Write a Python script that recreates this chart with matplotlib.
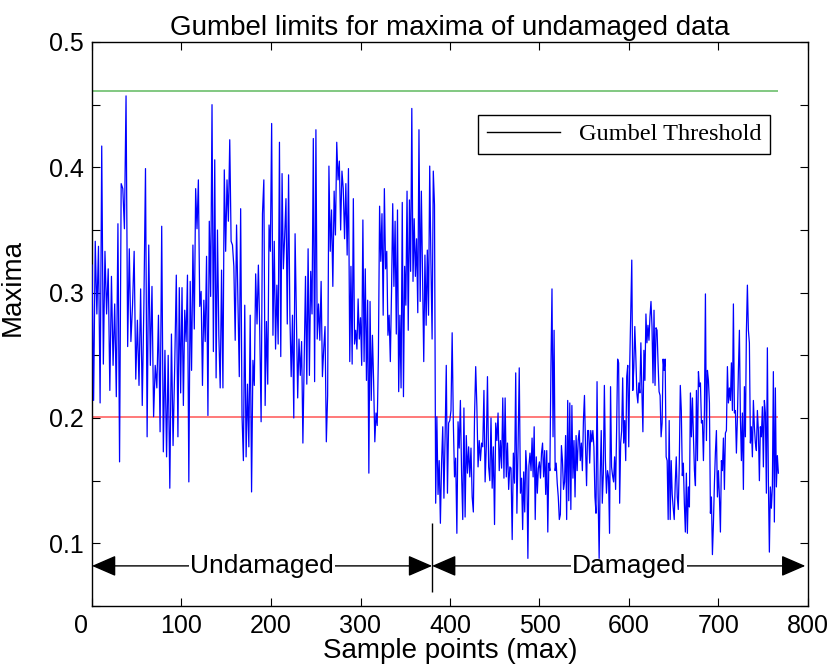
"""Gumbel limits for maxima of undamaged data - recreated with matplotlib."""

import numpy as np
import matplotlib
matplotlib.use('Agg')  # no display
import matplotlib.pyplot as plt
import matplotlib.transforms as mtransforms
from matplotlib.lines import Line2D

# Maxima, one list per block of 96 sample points
seg_len = 96

# 0-95 (undamaged)
seg1 = [.322, .214, .341, .283, .337, .212, .417, .243, .333, .283, .319, .222, .313, .242,
        .291, .217, .355, .165, .387, .383, .351, .457, .257, .335, .261, .290, .333, .231,
        .278, .226, .303, .210, .290, .399, .185, .338, .242, .305, .201, .242, .224, .282,
        .189, .353, .173, .254, .169, .250, .144, .267, .178, .240, .314]
# 96-191
seg2 = [.185, .304, .220, .304, .210, .286, .261, .314, .149, .309, .238, .338, .271, .383,
        .351, .390, .289, .301, .226, .294, .261, .329, .202, .357, .297, .450, .253, .406,
        .232, .350, .266, .224, .318, .224, .398, .333, .390, .357, .422, .341, .338, .321,
        .262, .354, .295, .233, .367, .202, .166, .290, .169, .227, .177, .282, .141, .246,
        .226, .315, .275, .322, .269, .197, .363]
# 192-287
seg3 = [.390, .210, .277, .227, .354, .333, .435, .266, .341, .255, .306, .259, .420, .249,
        .395, .319, .345, .375, .275, .394, .282, .233, .282, .200, .347, .280, .216, .263,
        .234, .261, .180, .245, .313, .227, .335, .234, .317, .283, .423, .229, .430, .263,
        .291, .262, .309, .233, .255, .273, .181, .218, .401, .333, .366, .305, .381, .346,
        .420, .390, .405, .350, .397, .383, .343, .387, .330, .399]
# 288-383
seg4 = [.245, .321, .243, .375, .259, .270, .255, .295, .263, .280, .242, .358, .245, .319,
        .230, .294, .156, .293, .214, .266, .229, .181, .204, .194, .250, .369, .325, .363,
        .282, .383, .319, .333, .266, .282, .245, .301, .371, .305, .357, .267, .366, .221,
        .282, .224, .372, .217, .321, .290, .381, .270, .374, .317, .447, .309, .359, .313,
        .343, .284, .430, .293, .381, .315, .245, .330, .274, .334, .282, .401, .325, .263,
        .397, .370]
# 384-479 (damaged)
seg5 = [.132, .201, .139, .166, .116, .164, .193, .136, .185, .242, .140, .196, .198, .206,
        .268, .196, .153, .168, .108, .197, .176, .214, .156, .119, .208, .121, .186, .156,
        .177, .153, .176, .137, .125, .201, .241, .209, .161, .182, .166, .180, .177, .222,
        .149, .177, .233, .161, .150, .200, .144, .177, .115, .196, .182, .204, .158, .182,
        .160, .216, .152, .216, .153, .180, .143, .161, .160, .103, .172, .148, .236, .124,
        .177, .240, .140]
# 480-575
seg6 = [.152, .111, .157, .125, .174, .158, .088, .162, .172, .158, .184, .153, .193, .119,
        .169, .140, .160, .165, .152, .172, .180, .153, .174, .139, .174, .109, .164, .158,
        .241, .303, .185, .270, .158, .164, .148, .137, .119, .123, .178, .166, .143, .149,
        .186, .119, .214, .134, .212, .127, .210, .152, .182, .137, .186, .158, .182, .190,
        .166, .180, .158, .198, .218, .177, .146, .190, .190, .164, .190, .181, .190, .177,
        .137, .124, .229, .140, .088, .153, .190, .132, .156, .226, .166, .140]
# 576-671
seg7 = [.158, .153, .108, .225, .161, .154, .149, .169, .143, .190, .247, .244, .132, .180,
        .190, .232, .180, .198, .166, .233, .242, .177, .244, .283, .326, .222, .240, .273,
        .249, .220, .212, .228, .220, .260, .222, .189, .254, .230, .283, .260, .274, .262,
        .281, .293, .273, .228, .286, .226, .272, .270, .244, .221, .218, .185, .196, .247,
        .238, .247, .169, .166, .119, .198, .119, .166, .139, .128, .119, .148, .169, .137,
        .127, .164, .226, .206, .154, .164, .132, .109, .156, .108, .145, .129, .220, .185,
        .216]
# 672-767
seg8 = [.185, .158, .146, .222, .166, .237, .225, .228, .196, .198, .166, .206, .299, .182,
        .238, .230, .212, .124, .137, .091, .116, .148, .173, .190, .137, .158, .137, .109,
        .166, .158, .184, .143, .188, .190, .241, .212, .224, .214, .244, .206, .291, .204,
        .206, .172, .200, .238, .270, .200, .166, .204, .143, .225, .185, .269, .306, .270,
        .260, .180, .193, .169, .214, .193, .180, .174, .206, .190, .150, .193, .185, .209,
        .161, .214, .204, .140, .256, .150, .093, .145, .128, .145, .237, .117, .224, .145,
        .170, .156]

segments = [seg1, seg2, seg3, seg4, seg5, seg6, seg7, seg8]

upper_limit = 0.461   # green
lower_limit = 0.201   # red
split_at = 380        # undamaged / damaged boundary marker

x_ticks = [0, 100, 200, 300, 400, 500, 600, 700, 800]
y_ticks = [0.05, 0.1, 0.15, 0.2, 0.25, 0.3, 0.35, 0.4, 0.45, 0.5]
y_tick_labels = ['', '0.1', '', '0.2', '', '0.3', '', '0.4', '', '0.5']

# spread every block's readings over its 96 samples
x = np.concatenate([k * seg_len + np.linspace(0, seg_len, len(s), endpoint=False)
                    for k, s in enumerate(segments)])
y = np.concatenate(segments)

plt.rcParams['font.family'] = ['Liberation Sans', 'DejaVu Sans']

fig = plt.figure(figsize=(8.37, 6.7), dpi=100)
ax = fig.add_axes([92 / 837, 64 / 670, 716 / 837, 564 / 670])

ax.plot(x, y, color='#0000ff', lw=0.9, zorder=3)
ax.hlines(upper_limit, x.min(), x.max(), color='#5fb95f', lw=1.1, zorder=2)
ax.hlines(lower_limit, x.min(), x.max(), color='#ff5555', lw=1.1, zorder=2)

# region arrows along the bottom
arrow_y = 0.082
arrow_style = '<|-|>,head_length=1.5,head_width=0.65'
ax.annotate('', xy=(0, arrow_y), xytext=(split_at, arrow_y),
            arrowprops=dict(arrowstyle=arrow_style, color='k', lw=1.0,
                            shrinkA=0, shrinkB=0), zorder=1)
ax.annotate('', xy=(split_at, arrow_y), xytext=(797, arrow_y),
            arrowprops=dict(arrowstyle=arrow_style, color='k', lw=1.0,
                            shrinkA=0, shrinkB=0), zorder=1)
ax.vlines(split_at, 0.061, 0.116, color='k', lw=1.0, zorder=1)
ax.text(190, arrow_y, 'Undamaged', fontsize=19, ha='center', va='center',
        bbox=dict(facecolor='white', edgecolor='none', pad=0.5), zorder=1.5)
ax.text(600, arrow_y, 'Damaged', fontsize=19, ha='center', va='center',
        bbox=dict(facecolor='white', edgecolor='none', pad=0.5), zorder=1.5)

ax.set_xlim(0, 800)
ax.set_ylim(0.05, 0.5)
ax.set_xticks(x_ticks)
ax.set_yticks(y_ticks)
ax.set_yticklabels(y_tick_labels)
ax.tick_params(direction='in', length=6, width=0.8, top=True, right=True,
               labelsize=18, pad=6)
for side in ax.spines.values():
    side.set_linewidth(1.0)

# the "0" label sits a bit left of its tick in the original
zero_lbl = ax.get_xticklabels()[0]
zero_lbl.set_transform(zero_lbl.get_transform()
                       + mtransforms.ScaledTranslation(-0.11, 0, fig.dpi_scale_trans))

ax.set_title('Gumbel limits for maxima of undamaged data', fontsize=20, pad=5)
ax.set_xlabel('Sample points (max)', fontsize=20, labelpad=0)
ax.set_ylabel('Maxima', fontsize=20)
ax.yaxis.set_label_coords(-0.092, 0.565)

handle = Line2D([], [], color='k', lw=1.0)
ax.legend([handle], ['Gumbel Threshold'], loc='upper right',
          bbox_to_anchor=(0.947, 0.871), borderaxespad=0, fancybox=False,
          edgecolor='k', framealpha=1, handlelength=3.0, borderpad=0.35,
          prop={'family': 'Liberation Serif', 'size': 17.5})

fig.savefig('out.png', dpi=100)
plt.close(fig)
